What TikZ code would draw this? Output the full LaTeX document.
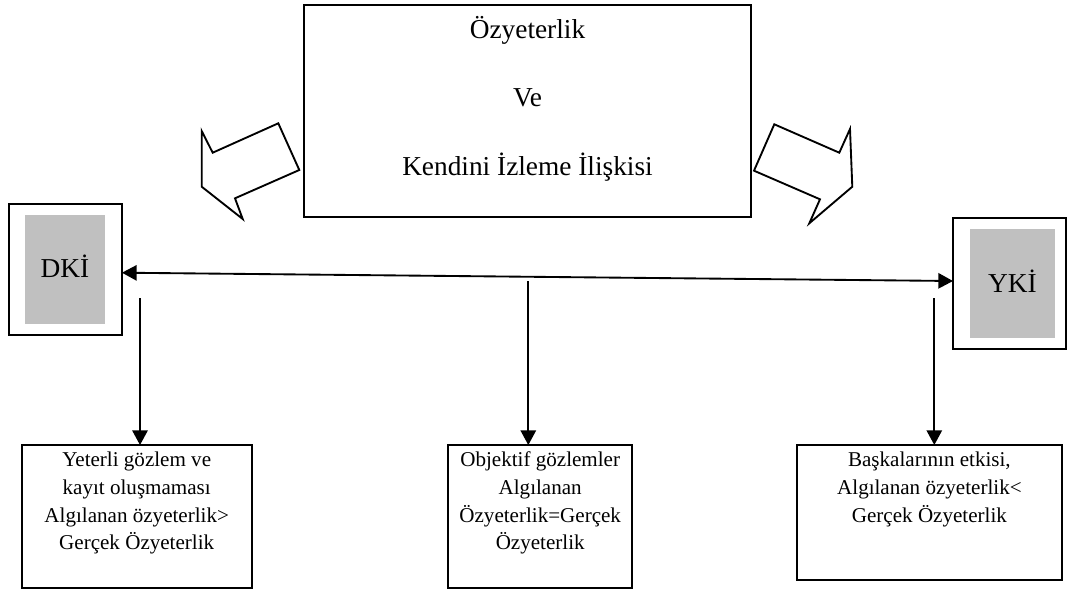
\documentclass[tikz,border=0pt]{standalone}
\usepackage{fontspec}
\setmainfont{Liberation Serif}
\usetikzlibrary{arrows.meta}
\begin{document}
\begin{tikzpicture}[x=0.75pt,y=-0.75pt,
  line width=1.4pt,
  frame/.style={draw=black,inner sep=0pt,outer sep=0pt},
  shade/.style={fill={rgb,255:red,192;green,192;blue,192},draw=none,inner sep=0pt,outer sep=0pt},
  bigtxt/.style={font=\fontsize{20.5pt}{24pt}\selectfont,inner sep=0pt},
  smalltxt/.style={font=\fontsize{15.8pt}{20.8pt}\selectfont,align=center,inner sep=0pt,anchor=north},
  link/.style={-{Triangle[length=11pt,width=11.5pt]}},
  dlink/.style={{Triangle[length=11pt,width=11.5pt]}-{Triangle[length=11pt,width=11.5pt]}},
  blockarrow/.style={draw=black,line width=1.4pt,line join=miter,fill=white}]
\useasboundingbox (0,0) rectangle (1068,592);

% central statement box
\node[frame,minimum width=447*0.75pt,minimum height=212*0.75pt] (top) at (527.5,111) {};
\node[bigtxt] (t1) at (527.5,30) {Özyeterlik};
\node[bigtxt] (t2) at (527.5,98) {Ve};
\node[bigtxt] (t3) at (527.5,167) {Kendini İzleme İlişkisi};

% block arrows pointing to both sides
\draw[blockarrow] (201.7,131) -- (212.7,152.7) -- (278.3,123.3) -- (299.3,170)
  -- (235,198.3) -- (242.7,219) -- (201.7,186.7) -- cycle;
\draw[blockarrow] (850,129) -- (839.3,152.7) -- (774.3,124.3) -- (754,170.7)
  -- (820,199.3) -- (809.3,223.3) -- (852.3,186.7) -- cycle;

% side boxes
\node[frame,minimum width=113.3*0.75pt,minimum height=131*0.75pt] (dki) at (65.35,269.5) {};
\node[shade,minimum width=80*0.75pt,minimum height=109*0.75pt] (dkig) at (65,269.5) {};
\node[bigtxt] (dkit) at (65,266.7) {DKİ};

\node[frame,minimum width=113*0.75pt,minimum height=131*0.75pt] (yki) at (1009.5,283.8) {};
\node[shade,minimum width=85*0.75pt,minimum height=109*0.75pt] (ykig) at (1012.5,283.6) {};
\node[bigtxt] (ykit) at (1012.5,281.7) {YKİ};

% outcome boxes
\node[frame,minimum width=230*0.75pt,minimum height=143.3*0.75pt] (bl) at (136.7,516.7) {};
\node[frame,minimum width=184.3*0.75pt,minimum height=143.3*0.75pt] (bc) at (540.2,516.7) {};
\node[frame,minimum width=265.3*0.75pt,minimum height=135*0.75pt] (br) at (929.4,512.5) {};

\node[smalltxt] (blt) at (136.7,451) {Yeterli gözlem ve\\kayıt oluşmaması\\Algılanan özyeterlik>\\Gerçek Özyeterlik};
\node[smalltxt] (bct) at (540.2,451) {Objektif gözlemler\\Algılanan\\Özyeterlik=Gerçek\\Özyeterlik};
\node[smalltxt] (brt) at (929.4,451) {Başkalarının etkisi,\\Algılanan özyeterlik<\\Gerçek Özyeterlik};

% connectors
\draw[dlink] ([yshift=-2.4pt]dki.east) -- ([yshift=2.1pt]yki.west);
\coordinate (sl) at (140,298);
\coordinate (sc) at (528.3,281);
\coordinate (sr) at (934.3,298);
\draw[link] (sl) -- (sl |- bl.north);
\draw[link] (sc) -- (sc |- bc.north);
\draw[link] (sr) -- (sr |- br.north);
\end{tikzpicture}
\end{document}
